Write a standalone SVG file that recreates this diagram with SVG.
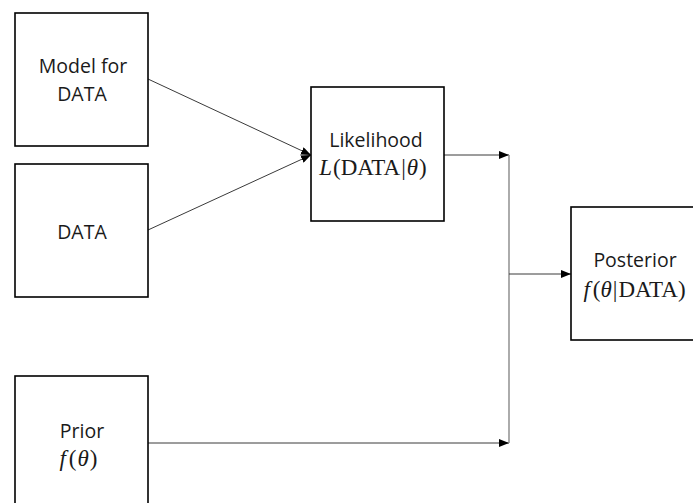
<svg xmlns="http://www.w3.org/2000/svg" width="693" height="503" viewBox="0 0 693 503">
<style>
.box{fill:#fff;stroke:#000;stroke-width:1.6}
.t{font-family:"Open Sans","Noto Sans",sans-serif;font-size:19.5px;fill:#1a1a1a;text-anchor:middle}
.m{font-family:"Liberation Serif","DejaVu Serif",serif;font-size:23px;fill:#1a1a1a;text-anchor:middle}
.c{fill:none;stroke:#3a3a3a;stroke-width:1}
.g{fill:none;stroke:#888;stroke-width:1.4}
</style>
<defs>
<marker id="ah" viewBox="0 0 10 8" refX="10" refY="4" markerWidth="10" markerHeight="8" markerUnits="userSpaceOnUse" orient="auto">
<path d="M0,0L10,4L0,8z" fill="#000"/>
</marker>
</defs>
<rect width="693" height="503" fill="#fff"/>
<g id="connectors">
<line class="c" x1="148" y1="79" x2="311" y2="155" marker-end="url(#ah)"/>
<line class="c" x1="148" y1="230" x2="311" y2="155" marker-end="url(#ah)"/>
<line class="c" x1="444" y1="155" x2="509" y2="155" marker-end="url(#ah)"/>
<line class="c" x1="148" y1="443" x2="509" y2="443" marker-end="url(#ah)"/>
<line class="g" x1="509" y1="155" x2="509" y2="443"/>
<line class="c" x1="509" y1="274" x2="571" y2="274" marker-end="url(#ah)"/>
</g>
<g id="model">
<rect class="box" x="15" y="13" width="133" height="133"/>
<text class="t" x="83" y="73">Model for</text>
<text class="t" x="82" y="101">DATA</text>
</g>
<g id="data">
<rect class="box" x="15" y="164" width="133" height="133"/>
<text class="t" x="82" y="239">DATA</text>
</g>
<g id="likelihood">
<rect class="box" x="311" y="87" width="133" height="134"/>
<text class="t" x="376" y="147">Likelihood</text>
<text class="m" x="373" y="175"><tspan font-style="italic">L</tspan><tspan dx="1">(DATA</tspan><tspan dx="1">|</tspan><tspan dx="1" font-style="italic">θ</tspan><tspan dx="1">)</tspan></text>
</g>
<g id="posterior">
<rect class="box" x="571" y="207" width="133" height="133"/>
<text class="t" x="635" y="267">Posterior</text>
<text class="m" x="634.5" y="297"><tspan font-style="italic">f</tspan><tspan dx="3">(</tspan><tspan font-style="italic">θ</tspan><tspan dx="1">|</tspan><tspan dx="1">DATA)</tspan></text>
</g>
<g id="prior">
<rect class="box" x="15" y="376" width="133" height="133"/>
<text class="t" x="82" y="438">Prior</text>
<text class="m" x="78.5" y="466"><tspan font-style="italic">f</tspan><tspan dx="3">(</tspan><tspan dx="1" font-style="italic">θ</tspan><tspan dx="1">)</tspan></text>
</g>
</svg>
